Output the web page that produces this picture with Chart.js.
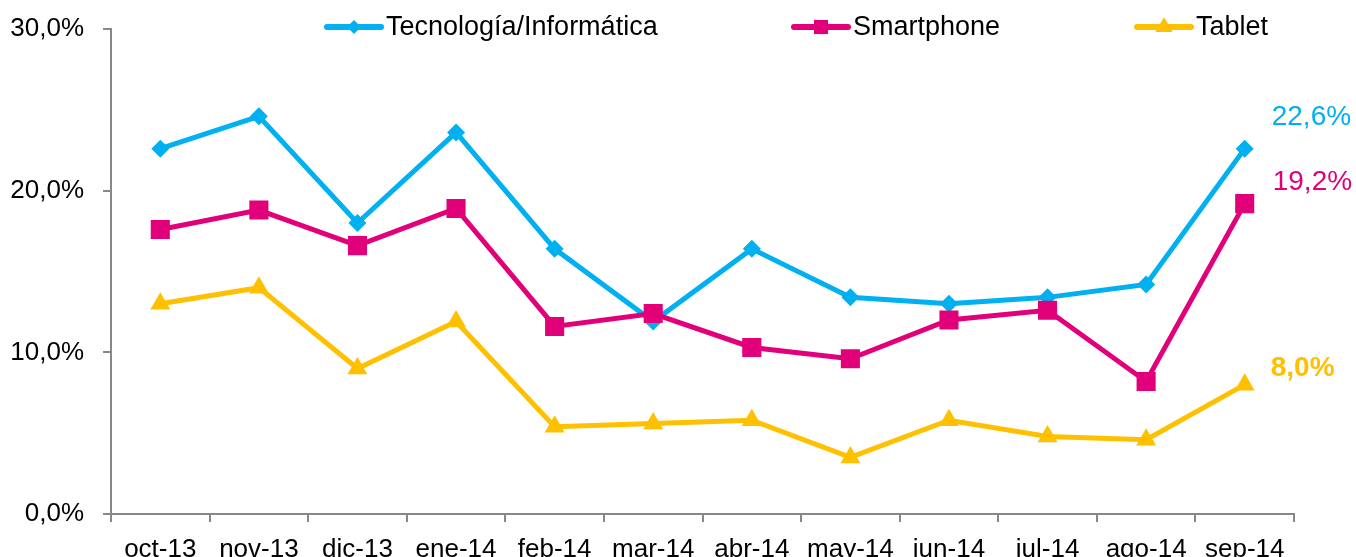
<!DOCTYPE html>
<html>
<head>
<meta charset="utf-8">
<script src="https://cdn.jsdelivr.net/npm/chart.js@4"></script>
<style>
  html, body { margin: 0; padding: 0; background: #fff; }
  #wrap { width: 1356px; height: 557px; }
</style>
</head>
<body>
<div id="wrap"><canvas id="chart" width="1356" height="557"></canvas></div>
<script>
// datos
const meses = ['oct-13', 'nov-13', 'dic-13', 'ene-14', 'feb-14', 'mar-14', 'abr-14', 'may-14', 'jun-14', 'jul-14', 'ago-14', 'sep-14'];
const tecnologia = [22.6, 24.6, 18.0, 23.6, 16.4, 11.9, 16.4, 13.4, 13.0, 13.4, 14.2, 22.6];
const smartphone = [17.6, 18.8, 16.6, 18.9, 11.6, 12.4, 10.3, 9.6, 12.0, 12.6, 8.2, 19.2];
const tablet = [13.0, 14.0, 9.0, 11.9, 5.4, 5.6, 5.8, 3.5, 5.8, 4.8, 4.6, 8.0];
const ticksY = [0, 10, 20, 30];

const FONT = "'Liberation Sans', Arial, sans-serif";
const fmt = v => v.toFixed(1).replace('.', ',') + '%';

// leyenda arriba y etiquetas del último punto
const extras = {
    id: 'extras',
    afterDatasetsDraw(chart) {
        const ctx = chart.ctx;
        // etiquetas finales
        const offs = [[27, -31, false], [28, -21, false], [26, -16, true]];
        chart.data.datasets.forEach((ds, i) => {
            const pts = chart.getDatasetMeta(i).data;
            const p = pts[pts.length - 1];
            ctx.save();
            ctx.fillStyle = ds.borderColor;
            ctx.font = (offs[i][2] ? 'bold ' : '') + '28px ' + FONT;
            ctx.textBaseline = 'middle';
            ctx.textAlign = 'left';
            ctx.fillText(fmt(ds.data[ds.data.length - 1]), p.x + offs[i][0], p.y + offs[i][1]);
            ctx.restore();
        });
        // leyenda
        const items = [327, 794, 1137];
        const radios = [7, 10, 10];
        chart.data.datasets.forEach((ds, i) => {
            const x0 = items[i], y = 27;
            ctx.save();
            ctx.strokeStyle = ds.borderColor;
            ctx.fillStyle = ds.borderColor;
            ctx.lineWidth = 6;
            ctx.lineCap = 'round';
            ctx.beginPath();
            ctx.moveTo(x0, y);
            ctx.lineTo(x0 + 54, y);
            ctx.stroke();
            Chart.helpers.drawPoint(ctx, {
                pointStyle: ds.pointStyle,
                radius: radios[i],
                borderWidth: 0
            }, x0 + 27, y);
            ctx.fillStyle = '#000';
            ctx.font = '27px ' + FONT;
            ctx.textBaseline = 'middle';
            ctx.fillText(ds.label, x0 + 59, y + 1);
            ctx.restore();
        });
    }
};

new Chart(document.getElementById('chart'), {
    type: 'line',
    data: {
        labels: meses,
        datasets: [
            {
                label: 'Tecnología/Informática',
                data: tecnologia,
                borderColor: '#00B0F0',
                backgroundColor: '#00B0F0',
                borderWidth: 5,
                pointStyle: 'rectRot',
                pointRadius: 9,
                pointBorderWidth: 0,
                order: 3
            },
            {
                label: 'Smartphone',
                data: smartphone,
                borderColor: '#E2007A',
                backgroundColor: '#E2007A',
                borderWidth: 5,
                pointStyle: 'rect',
                pointRadius: 13.5,
                pointBorderWidth: 0,
                order: 2
            },
            {
                label: 'Tablet',
                data: tablet,
                borderColor: '#FFC000',
                backgroundColor: '#FFC000',
                borderWidth: 5,
                pointStyle: 'triangle',
                pointRadius: 11.5,
                pointBorderWidth: 0,
                order: 1
            }
        ]
    },
    options: {
        responsive: false,
        animation: false,
        layout: { padding: { top: 29, right: 62, left: 0, bottom: 0 } },
        plugins: {
            legend: { display: false },
            tooltip: { enabled: false }
        },
        scales: {
            x: {
                offset: true,
                grid: { offset: true, drawOnChartArea: false, tickLength: 8, color: '#888', lineWidth: 2 },
                border: { color: '#888', width: 2 },
                ticks: { color: '#000', font: { family: FONT, size: 26 }, padding: 12, maxRotation: 0, autoSkip: false },
                afterFit: s => { s.height = 43; s.paddingLeft = 0; s.paddingRight = 0; }
            },
            y: {
                min: 0,
                max: 30,
                afterBuildTicks: s => { s.ticks = ticksY.map(v => ({ value: v })); },
                grid: { drawOnChartArea: false, tickLength: 8, color: '#888', lineWidth: 2 },
                border: { color: '#888', width: 2 },
                ticks: { color: '#000', font: { family: FONT, size: 26 }, padding: 19, callback: v => fmt(v) },
                afterFit: s => { s.width = 111; s.paddingTop = 0; s.paddingBottom = 0; }
            }
        }
    },
    plugins: [extras]
});
</script>
</body>
</html>
